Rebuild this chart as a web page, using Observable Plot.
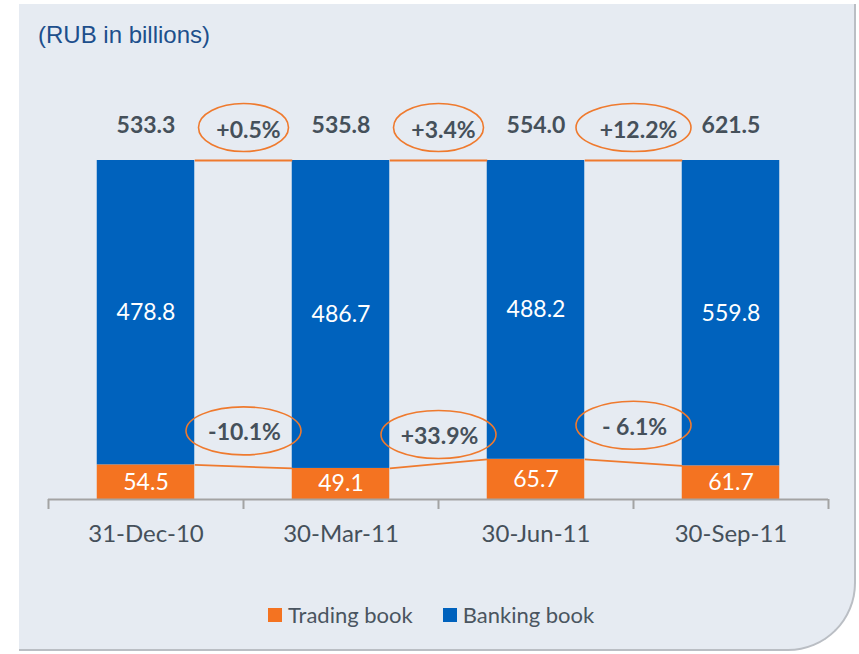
<!DOCTYPE html>
<html>
<head>
<meta charset="utf-8">
<script src="https://cdn.jsdelivr.net/npm/d3@7"></script>
<script src="https://cdn.jsdelivr.net/npm/@observablehq/plot@0.6"></script>
<style>
  html, body { margin: 0; padding: 0; background: #ffffff; }
  body { width: 859px; height: 654px; position: relative; overflow: hidden; font-family: Lato, "Open Sans", sans-serif; }
  #panel { position: absolute; left: 19px; top: 4px; width: 835px; height: 645px; background: #e6ebf2;
           border-bottom-right-radius: 68px; border-right: 2px solid #babec4; border-bottom: 2px solid #babec4; }
  #title { position: absolute; left: 38px; top: 21px; font-family: "Liberation Sans", Arial, sans-serif;
           font-size: 24px; color: #1d4f8c; }
  #chart { position: absolute; left: 0; top: 0; }
  #legend { position: absolute; left: 268px; top: 601px; display: flex; align-items: center; gap: 30px;
            font-size: 22px; color: #4a5560; }
  .item { display: flex; align-items: center; gap: 6px; }
  .sw { width: 14px; height: 14px; display: inline-block; }
</style>
</head>
<body>
<div id="panel"></div>
<div id="title">(RUB in billions)</div>
<div id="chart"></div>
<div id="legend"></div>
<script>
// ---- data ----
const categories = ["31-Dec-10", "30-Mar-11", "30-Jun-11", "30-Sep-11"];
const trading = [54.5, 49.1, 65.7, 61.7];
const banking = [478.8, 486.7, 488.2, 559.8];
const totals = [533.3, 535.8, 554.0, 621.5];
const totalChange = ["+0.5%", "+3.4%", "+12.2%"];
const tradingChange = ["-10.1%", "+33.9%", "- 6.1%"];
const seriesNames = ["Trading book", "Banking book"];
const seriesColors = ["#f47321", "#0062bd"];

// ---- derived tables ----
const rows = categories.flatMap((c, i) => [
  {i, category: c, series: seriesNames[0], value: trading[i]},
  {i, category: c, series: seriesNames[1], value: banking[i]}
]);
const share = categories.map((c, i) => trading[i] / (trading[i] + banking[i]));
const gaps = totalChange.map((t, i) => ({i, top: t, bottom: tradingChange[i]}));
const bounds = categories.map((c, i) => i - 0.5).concat([categories.length - 0.5]);

const ORANGE = "#ef7a2e";
const TEXT = "#45505a";

const svg = Plot.plot({
  width: 859,
  height: 560,
  marginTop: 160,
  marginBottom: 61,
  marginLeft: 48,
  marginRight: 31,
  style: {background: "transparent", fontFamily: "Lato, 'Open Sans', sans-serif", overflow: "visible"},
  x: {type: "linear", domain: [-0.5, categories.length - 0.5], label: null},
  y: {axis: null, domain: [0, 1], label: null},
  color: {domain: seriesNames, range: seriesColors},
  marks: [
    Plot.rectY(rows, {
      x1: d => d.i - 0.25, x2: d => d.i + 0.25, y: "value",
      fill: "series", order: seriesNames, offset: "normalize"
    }),
    Plot.text(rows, Plot.stackY({
      x: "i", y: "value", z: "series", order: seriesNames, offset: "normalize",
      text: d => d.value.toFixed(1), fill: "white", fontSize: 23
    })),
    Plot.ruleY([0], {stroke: "#a3a3a3", strokeWidth: 2}),
    Plot.ruleX(bounds, {y1: () => 0, y2: () => 0, insetBottom: -10, stroke: "#a3a3a3", strokeWidth: 2}),
    Plot.axisX({
      ticks: categories.map((c, i) => i), tickFormat: i => categories[i], label: null,
      tickSize: 0, tickPadding: 25, fontSize: 24, fill: TEXT
    }),
    // connector lines
    Plot.link(gaps, {
      x1: d => d.i + 0.25, x2: d => d.i + 0.75, y1: () => 1, y2: () => 1,
      stroke: ORANGE, strokeWidth: 2
    }),
    Plot.link(gaps, {
      x1: d => d.i + 0.25, x2: d => d.i + 0.75,
      y1: d => share[d.i], y2: d => share[d.i + 1],
      stroke: ORANGE, strokeWidth: 1.8
    }),
    // ellipse outlines (circles reshaped below)
    Plot.dot(gaps, {x: d => d.i + 0.5, y: () => 1, r: 24, dy: -33, stroke: ORANGE, strokeWidth: 1.6, fill: "none"}),
    Plot.dot(gaps, {x: d => d.i + 0.5, y: d => share[d.i], r: 24, dy: -34, stroke: ORANGE, strokeWidth: 1.6, fill: "none"}),
    // totals
    Plot.text(categories, {
      x: (d, i) => i, y: () => 1, dy: -35, text: (d, i) => totals[i].toFixed(1),
      fontWeight: "bold", fontSize: 23, fill: TEXT
    }),
    // changes
    Plot.text(gaps, {x: d => d.i + 0.5, y: () => 1, dy: -30, dx: 5, text: "top", fontWeight: "bold", fontSize: 23, fill: TEXT}),
    Plot.text(gaps, {x: d => d.i + 0.5, y: d => share[d.i], dy: -32, dx: 1, text: "bottom", fontWeight: "bold", fontSize: 23, fill: TEXT})
  ]
});

// reshape the circles into ellipses sized to their labels
const ellLabels = gaps.map(g => g.top).concat(gaps.map(g => g.bottom));
const ns = "http://www.w3.org/2000/svg";
svg.querySelectorAll("circle").forEach((c, k) => {
  const label = ellLabels[k] || "";
  const e = document.createElementNS(ns, "ellipse");
  e.setAttribute("cx", c.getAttribute("cx"));
  e.setAttribute("cy", c.getAttribute("cy"));
  e.setAttribute("rx", 45 + 12.5 * (label.length - 5));
  e.setAttribute("ry", 24);
  c.replaceWith(e);
});

document.getElementById("chart").appendChild(svg);

// legend
const legend = document.getElementById("legend");
seriesNames.forEach((s, k) => {
  const item = document.createElement("div");
  item.className = "item";
  const sw = document.createElement("span");
  sw.className = "sw";
  sw.style.background = seriesColors[k];
  const t = document.createElement("span");
  t.textContent = s;
  item.appendChild(sw);
  item.appendChild(t);
  legend.appendChild(item);
});
</script>
</body>
</html>
